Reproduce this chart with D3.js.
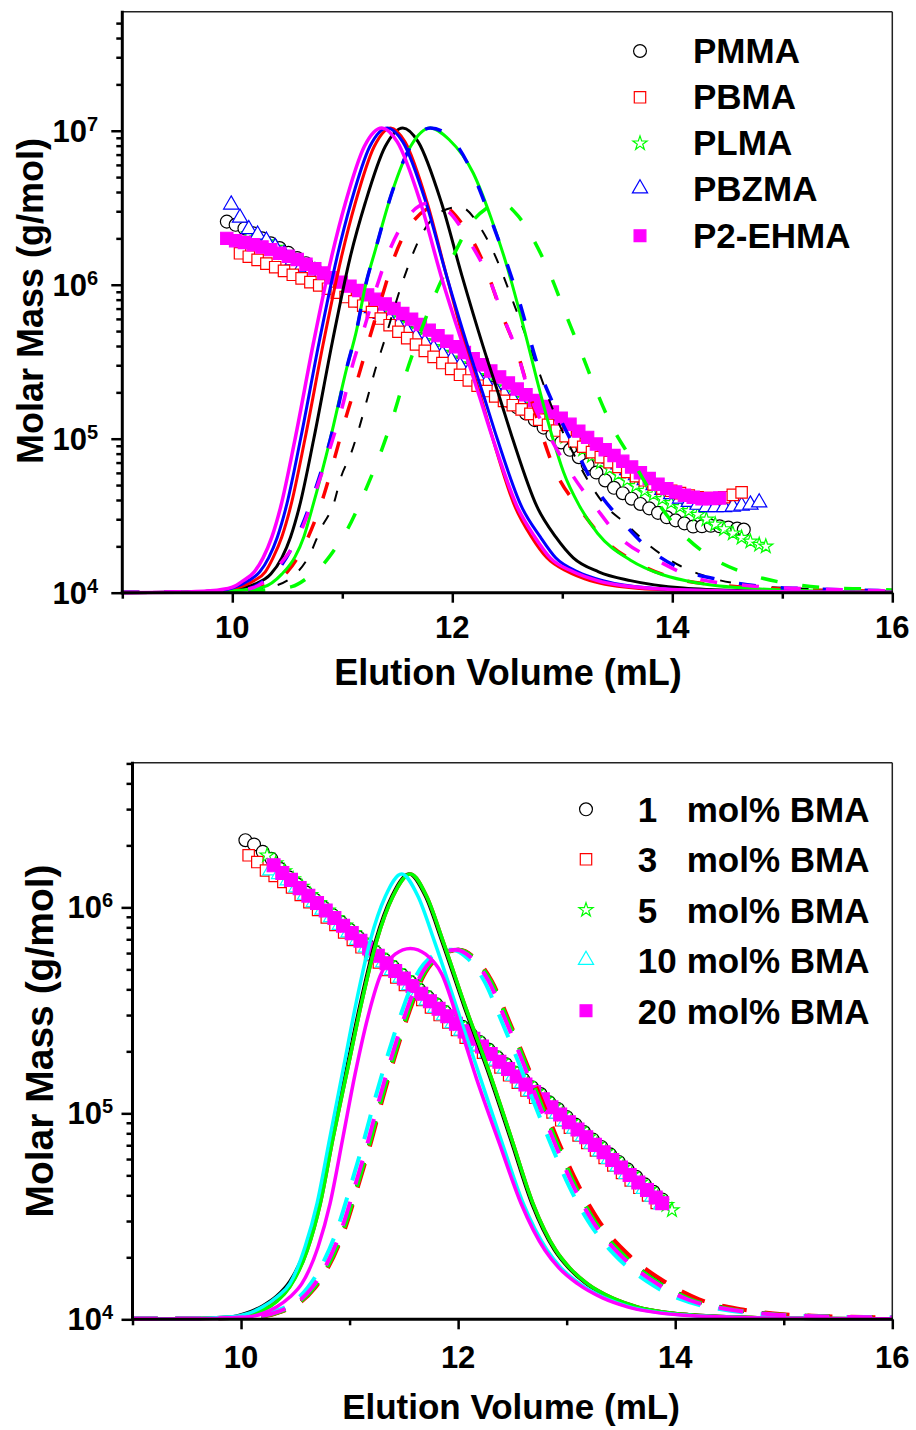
<!DOCTYPE html>
<html>
<head>
<meta charset="utf-8">
<script src="https://cdn.jsdelivr.net/npm/d3@7"></script>
<style>
  body { margin: 0; background: #fff; }
  svg { display: block; }
  text { font-family: "Liberation Sans", Arial, Helvetica, sans-serif; font-weight: bold; fill: #000; }
</style>
</head>
<body>
<svg id="chart" width="916" height="1430"></svg>
<script>
// ---------------- axis ticks and labels ----------------
const volumeTicks = [10, 12, 14, 16];
const volumeMinorTicks = [9, 11, 13, 15];
const topMassTicks = [1e4, 1e5, 1e6, 1e7];
const bottomMassTicks = [1e4, 1e5, 1e6];
const xTitle = "Elution Volume (mL)";
const yTitle = "Molar Mass (g/mol)";
const topLegendLabels = ["PMMA", "PBMA", "PLMA", "PBZMA", "P2-EHMA"];
const bottomLegendAmounts = ["1", "3", "5", "10", "20"];
const bottomLegendUnit = "mol% BMA";

// ---------------- homopolymers: molar mass vs elution volume [mL, g/mol] ----------------
const pmmaMass = [[9.95,2.57e6],[10.03,2.45e6],[10.11,2.32e6],[10.19,2.16e6],[10.27,2.00e6],[10.35,1.86e6],[10.43,1.73e6],[10.51,1.61e6],[10.59,1.49e6],[10.67,1.38e6],[10.75,1.27e6],[10.83,1.17e6],[10.91,1.08e6],[10.99,9.95e5],[11.07,9.14e5],[11.15,8.38e5],[11.23,7.67e5],[11.31,7.00e5],[11.39,6.38e5],[11.47,5.82e5],[11.55,5.31e5],[11.63,4.84e5],[11.71,4.42e5],[11.79,4.03e5],[11.87,3.67e5],[11.95,3.35e5],[12.03,3.05e5],[12.11,2.82e5],[12.19,2.57e5],[12.27,2.34e5],[12.35,2.14e5],[12.43,1.93e5],[12.51,1.76e5],[12.59,1.60e5],[12.67,1.46e5],[12.75,1.32e5],[12.83,1.18e5],[12.91,1.06e5],[12.99,9.46e4],[13.07,8.47e4],[13.15,7.59e4],[13.23,6.78e4],[13.31,6.03e4],[13.39,5.36e4],[13.47,4.80e4],[13.55,4.43e4],[13.63,4.08e4],[13.71,3.77e4],[13.79,3.53e4],[13.87,3.30e4],[13.95,3.09e4],[14.03,2.95e4],[14.11,2.82e4],[14.19,2.69e4],[14.27,2.70e4],[14.35,2.72e4],[14.43,2.70e4],[14.51,2.65e4],[14.59,2.61e4],[14.65,2.57e4]];
const pbmaMass = [[10.07,1.60e6],[10.15,1.52e6],[10.23,1.45e6],[10.31,1.37e6],[10.39,1.30e6],[10.47,1.23e6],[10.55,1.16e6],[10.63,1.10e6],[10.71,1.04e6],[10.79,9.91e5],[10.87,9.42e5],[10.95,8.87e5],[11.03,8.32e5],[11.11,7.80e5],[11.19,7.31e5],[11.27,6.65e5],[11.35,6.03e5],[11.43,5.46e5],[11.51,4.95e5],[11.59,4.50e5],[11.67,4.09e5],[11.75,3.72e5],[11.83,3.40e5],[11.91,3.10e5],[11.99,2.84e5],[12.07,2.60e5],[12.15,2.39e5],[12.23,2.21e5],[12.31,2.04e5],[12.39,1.88e5],[12.47,1.76e5],[12.55,1.65e5],[12.63,1.55e5],[12.71,1.45e5],[12.79,1.33e5],[12.87,1.23e5],[12.95,1.13e5],[13.03,1.04e5],[13.11,9.59e4],[13.19,8.87e4],[13.27,8.18e4],[13.35,7.59e4],[13.43,7.05e4],[13.51,6.55e4],[13.59,6.08e4],[13.67,5.71e4],[13.75,5.37e4],[13.83,5.05e4],[13.91,4.76e4],[13.99,4.59e4],[14.07,4.43e4],[14.15,4.27e4],[14.23,4.16e4],[14.31,4.12e4],[14.39,4.08e4],[14.47,4.17e4],[14.55,4.32e4],[14.63,4.48e4]];
const plmaMass = [[10.15,2.14e6],[10.23,2.01e6],[10.31,1.89e6],[10.39,1.74e6],[10.47,1.61e6],[10.55,1.49e6],[10.63,1.37e6],[10.71,1.26e6],[10.79,1.17e6],[10.87,1.08e6],[10.95,9.95e5],[11.03,9.20e5],[11.11,8.49e5],[11.19,7.83e5],[11.27,7.19e5],[11.35,6.61e5],[11.43,6.07e5],[11.51,5.56e5],[11.59,5.11e5],[11.67,4.69e5],[11.75,4.30e5],[11.83,3.94e5],[11.91,3.62e5],[11.99,3.32e5],[12.07,3.05e5],[12.15,2.80e5],[12.23,2.56e5],[12.31,2.36e5],[12.39,2.16e5],[12.47,1.98e5],[12.55,1.82e5],[12.63,1.67e5],[12.71,1.53e5],[12.79,1.39e5],[12.87,1.26e5],[12.95,1.14e5],[13.03,1.03e5],[13.11,9.38e4],[13.19,8.51e4],[13.27,7.73e4],[13.35,7.01e4],[13.43,6.40e4],[13.51,5.87e4],[13.59,5.38e4],[13.67,4.94e4],[13.75,4.60e4],[13.83,4.34e4],[13.91,4.07e4],[13.99,3.83e4],[14.07,3.61e4],[14.15,3.40e4],[14.23,3.21e4],[14.31,2.99e4],[14.39,2.78e4],[14.47,2.59e4],[14.55,2.43e4],[14.63,2.28e4],[14.71,2.15e4],[14.79,2.05e4],[14.85,2.00e4]];
const pbzmaMass = [[9.99,3.31e6],[10.07,2.72e6],[10.15,2.29e6],[10.23,2.11e6],[10.31,1.93e6],[10.39,1.75e6],[10.47,1.58e6],[10.55,1.44e6],[10.63,1.31e6],[10.71,1.21e6],[10.79,1.12e6],[10.87,1.03e6],[10.95,9.55e5],[11.03,8.87e5],[11.11,8.24e5],[11.19,7.66e5],[11.27,7.03e5],[11.35,6.46e5],[11.43,5.93e5],[11.51,5.43e5],[11.59,4.99e5],[11.67,4.58e5],[11.75,4.20e5],[11.83,3.85e5],[11.91,3.54e5],[11.99,3.24e5],[12.07,2.98e5],[12.15,2.74e5],[12.23,2.51e5],[12.31,2.30e5],[12.39,2.11e5],[12.47,1.95e5],[12.55,1.80e5],[12.63,1.66e5],[12.71,1.53e5],[12.79,1.43e5],[12.87,1.32e5],[12.95,1.23e5],[13.03,1.14e5],[13.11,1.04e5],[13.19,9.57e4],[13.27,8.79e4],[13.35,8.07e4],[13.43,7.40e4],[13.51,6.79e4],[13.59,6.24e4],[13.67,5.78e4],[13.75,5.37e4],[13.83,4.99e4],[13.91,4.65e4],[13.99,4.36e4],[14.07,4.08e4],[14.15,3.88e4],[14.23,3.72e4],[14.31,3.59e4],[14.39,3.59e4],[14.47,3.59e4],[14.55,3.62e4],[14.63,3.67e4],[14.71,3.73e4],[14.79,3.85e4]];
const p2ehmaMass = [[9.95,2.00e6],[10.03,1.93e6],[10.11,1.88e6],[10.19,1.82e6],[10.27,1.76e6],[10.35,1.69e6],[10.43,1.60e6],[10.51,1.53e6],[10.59,1.46e6],[10.67,1.36e6],[10.75,1.27e6],[10.83,1.19e6],[10.91,1.11e6],[10.99,1.04e6],[11.07,9.79e5],[11.15,9.18e5],[11.23,8.59e5],[11.31,8.04e5],[11.39,7.50e5],[11.47,7.01e5],[11.55,6.50e5],[11.63,5.98e5],[11.71,5.51e5],[11.79,5.07e5],[11.87,4.67e5],[11.95,4.30e5],[12.03,3.95e5],[12.11,3.63e5],[12.19,3.31e5],[12.27,3.02e5],[12.35,2.75e5],[12.43,2.52e5],[12.51,2.30e5],[12.59,2.10e5],[12.67,1.93e5],[12.75,1.77e5],[12.83,1.62e5],[12.91,1.49e5],[12.99,1.36e5],[13.07,1.24e5],[13.15,1.12e5],[13.23,1.02e5],[13.31,9.23e4],[13.39,8.47e4],[13.47,7.78e4],[13.55,7.13e4],[13.63,6.55e4],[13.71,6.01e4],[13.79,5.51e4],[13.87,5.06e4],[13.95,4.74e4],[14.03,4.51e4],[14.11,4.30e4],[14.19,4.17e4],[14.27,4.07e4],[14.35,4.09e4],[14.43,4.12e4]];

// ---------------- homopolymers: normalised detector traces [mL, signal] ----------------
const pmmaRI = [[9.0,0],[9.5,0.001],[9.8,0.003],[10.0,0.007],[10.2,0.018],[10.35,0.04],[10.45,0.075],[10.53,0.12],[10.61,0.185],[10.74,0.33],[10.91,0.54],[11.07,0.72],[11.21,0.84],[11.39,0.96],[11.55,1.0],[11.69,0.97],[11.9,0.84],[12.09,0.68],[12.28,0.53],[12.43,0.42],[12.55,0.33],[12.77,0.185],[12.94,0.12],[13.1,0.075],[13.33,0.045],[13.62,0.026],[14.1,0.01],[14.7,0.004],[15.3,0.002],[16.0,0.001]];
const pbmaRI = [[9.0,0],[9.5,0.001],[9.8,0.003],[10.0,0.008],[10.2,0.026],[10.3,0.045],[10.37,0.075],[10.45,0.12],[10.53,0.185],[10.66,0.33],[10.83,0.54],[10.99,0.72],[11.12,0.84],[11.29,0.96],[11.44,1.0],[11.57,0.97],[11.77,0.84],[11.95,0.68],[12.12,0.53],[12.26,0.42],[12.37,0.33],[12.57,0.185],[12.72,0.12],[12.86,0.075],[13.05,0.045],[13.25,0.026],[13.7,0.009],[14.4,0.003],[15.0,0.001],[16.0,0.0005]];
const plmaRI = [[9.0,0],[9.6,0.001],[10.0,0.004],[10.28,0.012],[10.45,0.04],[10.57,0.077],[10.65,0.12],[10.73,0.185],[10.89,0.33],[11.04,0.483],[11.13,0.565],[11.21,0.66],[11.3,0.737],[11.45,0.86],[11.62,0.96],[11.8,1.0],[11.97,0.975],[12.19,0.903],[12.35,0.808],[12.5,0.70],[12.65,0.57],[12.8,0.43],[12.91,0.335],[13.01,0.26],[13.16,0.185],[13.32,0.128],[13.62,0.07],[13.92,0.038],[14.23,0.021],[14.8,0.008],[15.4,0.003],[16.0,0.001]];
const pbzmaRI = [[9.0,0],[9.5,0.001],[9.8,0.003],[10.0,0.01],[10.15,0.026],[10.25,0.045],[10.33,0.075],[10.41,0.12],[10.49,0.185],[10.62,0.33],[10.79,0.54],[10.95,0.72],[11.08,0.84],[11.25,0.96],[11.41,1.0],[11.55,0.97],[11.76,0.84],[11.95,0.68],[12.14,0.53],[12.29,0.42],[12.41,0.33],[12.63,0.185],[12.8,0.12],[12.94,0.075],[13.14,0.045],[13.37,0.026],[13.8,0.01],[14.4,0.004],[15.0,0.002],[16.0,0.001]];
const p2ehmaRI = [[9.0,0],[9.5,0.001],[9.8,0.004],[10.0,0.012],[10.1,0.026],[10.2,0.045],[10.28,0.075],[10.36,0.12],[10.44,0.185],[10.57,0.33],[10.74,0.54],[10.9,0.72],[11.03,0.84],[11.2,0.96],[11.36,1.0],[11.5,0.97],[11.71,0.84],[11.9,0.68],[12.1,0.53],[12.25,0.42],[12.37,0.33],[12.59,0.185],[12.75,0.12],[12.89,0.075],[13.1,0.045],[13.32,0.026],[13.77,0.01],[14.4,0.004],[15.0,0.002],[16.0,0.001]];

const pmmaLS = [[9.0,0.001],[10.0,0.003],[10.3,0.01],[10.55,0.035],[10.7,0.08],[10.81,0.14],[10.92,0.19],[10.99,0.25],[11.08,0.3],[11.16,0.36],[11.23,0.42],[11.3,0.48],[11.38,0.54],[11.55,0.67],[11.72,0.77],[11.9,0.82],[12.07,0.83],[12.27,0.78],[12.38,0.73],[12.57,0.615],[12.75,0.5],[12.93,0.385],[13.1,0.3],[13.25,0.235],[13.4,0.185],[13.57,0.15],[13.8,0.1],[14.07,0.058],[14.27,0.038],[14.74,0.015],[15.3,0.008],[16.0,0.004]];
const pbmaLS = [[9.0,0.001],[10.0,0.003],[10.25,0.012],[10.5,0.045],[10.69,0.12],[10.83,0.208],[10.93,0.29],[11.03,0.375],[11.14,0.46],[11.25,0.55],[11.36,0.636],[11.47,0.72],[11.63,0.795],[11.89,0.834],[12.1,0.79],[12.3,0.70],[12.45,0.6],[12.6,0.51],[12.7,0.43],[12.93,0.265],[13.16,0.18],[13.4,0.11],[13.68,0.064],[14.04,0.03],[14.5,0.015],[15.0,0.008],[16.0,0.003]];
const plmaLS = [[9.0,0.001],[10.0,0.002],[10.3,0.006],[10.54,0.013],[10.7,0.035],[10.83,0.062],[10.95,0.1],[11.05,0.138],[11.21,0.22],[11.35,0.302],[11.47,0.385],[11.58,0.472],[11.71,0.56],[11.84,0.639],[12.0,0.72],[12.17,0.795],[12.3,0.825],[12.45,0.838],[12.6,0.81],[12.73,0.763],[12.9,0.679],[13.03,0.6],[13.17,0.518],[13.31,0.434],[13.46,0.354],[13.63,0.287],[13.85,0.2],[14.08,0.13],[14.37,0.074],[14.72,0.038],[15.1,0.018],[15.44,0.01],[15.76,0.008],[16.0,0.006]];
const pbzmaLS = [[9.0,0.001],[9.6,0.001],[10.0,0.004],[10.17,0.01],[10.3,0.028],[10.44,0.057],[10.61,0.131],[10.75,0.219],[10.87,0.311],[10.96,0.397],[11.04,0.483],[11.13,0.565],[11.21,0.66],[11.3,0.737],[11.45,0.86],[11.62,0.96],[11.8,1.0],[11.98,0.98],[12.2,0.894],[12.34,0.81],[12.47,0.726],[12.59,0.642],[12.79,0.48],[12.96,0.385],[13.15,0.295],[13.28,0.235],[13.52,0.16],[13.77,0.098],[14.1,0.049],[14.43,0.028],[14.8,0.014],[15.3,0.008],[16.0,0.004]];
const p2ehmaLS = [[9.0,0.001],[9.6,0.002],[10.0,0.004],[10.18,0.01],[10.3,0.026],[10.43,0.06],[10.62,0.13],[10.76,0.22],[10.9,0.32],[11.0,0.4],[11.09,0.487],[11.2,0.57],[11.31,0.656],[11.43,0.737],[11.6,0.81],[11.78,0.838],[11.94,0.825],[12.16,0.754],[12.34,0.673],[12.47,0.59],[12.6,0.51],[12.69,0.436],[12.9,0.33],[13.1,0.25],[13.3,0.185],[13.51,0.122],[13.89,0.066],[14.22,0.031],[14.7,0.015],[15.3,0.008],[16.0,0.004]];

// ---------------- BMA copolymers: molar mass vs elution volume [mL, g/mol] ----------------
const bma1Mass = [[10.04,2.12e6],[10.12,2.02e6],[10.20,1.86e6],[10.28,1.72e6],[10.36,1.54e6],[10.44,1.40e6],[10.52,1.29e6],[10.60,1.18e6],[10.68,1.09e6],[10.76,9.98e5],[10.84,9.21e5],[10.92,8.48e5],[11.00,7.80e5],[11.08,7.16e5],[11.16,6.60e5],[11.24,6.06e5],[11.32,5.58e5],[11.40,5.14e5],[11.48,4.71e5],[11.56,4.34e5],[11.64,3.99e5],[11.72,3.67e5],[11.80,3.38e5],[11.88,3.10e5],[11.96,2.85e5],[12.04,2.63e5],[12.12,2.41e5],[12.20,2.22e5],[12.28,2.04e5],[12.36,1.87e5],[12.44,1.73e5],[12.52,1.58e5],[12.60,1.46e5],[12.68,1.34e5],[12.76,1.24e5],[12.84,1.13e5],[12.92,1.05e5],[13.00,9.60e4],[13.08,8.83e4],[13.16,8.11e4],[13.24,7.47e4],[13.32,6.87e4],[13.40,6.32e4],[13.48,5.81e4],[13.56,5.35e4],[13.64,4.92e4],[13.72,4.52e4],[13.80,4.16e4],[13.88,3.82e4]];
const bma3Mass = [[10.07,1.79e6],[10.15,1.66e6],[10.23,1.51e6],[10.31,1.42e6],[10.39,1.33e6],[10.47,1.25e6],[10.55,1.15e6],[10.63,1.06e6],[10.71,9.71e5],[10.79,8.93e5],[10.87,8.22e5],[10.95,7.55e5],[11.03,6.95e5],[11.11,6.40e5],[11.19,5.87e5],[11.27,5.41e5],[11.35,4.97e5],[11.43,4.57e5],[11.51,4.20e5],[11.59,3.86e5],[11.67,3.55e5],[11.75,3.27e5],[11.83,3.00e5],[11.91,2.76e5],[11.99,2.54e5],[12.07,2.33e5],[12.15,2.14e5],[12.23,1.97e5],[12.31,1.81e5],[12.39,1.67e5],[12.47,1.53e5],[12.55,1.41e5],[12.63,1.29e5],[12.71,1.19e5],[12.79,1.09e5],[12.87,1.01e5],[12.95,9.25e4],[13.03,8.51e4],[13.11,7.82e4],[13.19,7.19e4],[13.27,6.61e4],[13.35,6.08e4],[13.43,5.58e4],[13.51,5.14e4],[13.59,4.72e4],[13.67,4.35e4],[13.75,3.99e4],[13.83,3.67e4]];
const bma5Mass = [[10.24,1.79e6],[10.32,1.64e6],[10.40,1.50e6],[10.48,1.37e6],[10.56,1.26e6],[10.64,1.15e6],[10.72,1.05e6],[10.80,9.68e5],[10.88,8.89e5],[10.96,8.17e5],[11.04,7.52e5],[11.12,6.90e5],[11.20,6.34e5],[11.28,5.83e5],[11.36,5.36e5],[11.44,4.92e5],[11.52,4.53e5],[11.60,4.16e5],[11.68,3.82e5],[11.76,3.51e5],[11.84,3.23e5],[11.92,2.96e5],[12.00,2.72e5],[12.08,2.51e5],[12.16,2.30e5],[12.24,2.11e5],[12.32,1.95e5],[12.40,1.79e5],[12.48,1.64e5],[12.56,1.51e5],[12.64,1.39e5],[12.72,1.27e5],[12.80,1.17e5],[12.88,1.08e5],[12.96,9.89e4],[13.04,9.08e4],[13.12,8.36e4],[13.20,7.67e4],[13.28,7.05e4],[13.36,6.49e4],[13.44,5.96e4],[13.52,5.47e4],[13.60,5.04e4],[13.68,4.62e4],[13.76,4.25e4],[13.84,3.91e4],[13.92,3.59e4],[13.97,3.39e4]];
const bma10Mass = [[10.27,1.51e6],[10.35,1.45e6],[10.43,1.35e6],[10.51,1.25e6],[10.59,1.15e6],[10.67,1.06e6],[10.75,9.73e5],[10.83,8.95e5],[10.91,8.22e5],[10.99,7.55e5],[11.07,6.95e5],[11.15,6.38e5],[11.23,5.86e5],[11.31,5.40e5],[11.39,4.95e5],[11.47,4.55e5],[11.55,4.19e5],[11.63,3.85e5],[11.71,3.53e5],[11.79,3.25e5],[11.87,2.99e5],[11.95,2.74e5],[12.03,2.52e5],[12.11,2.32e5],[12.19,2.13e5],[12.27,1.96e5],[12.35,1.80e5],[12.43,1.65e5],[12.51,1.52e5],[12.59,1.40e5],[12.67,1.28e5],[12.75,1.18e5],[12.83,1.08e5],[12.91,9.95e4],[12.99,9.16e4],[13.07,8.41e4],[13.15,7.73e4],[13.23,7.11e4],[13.31,6.53e4],[13.39,6.00e4],[13.47,5.52e4],[13.55,5.07e4],[13.63,4.66e4],[13.71,4.29e4],[13.79,3.94e4],[13.87,3.61e4]];
const bma20Mass = [[10.30,1.60e6],[10.38,1.47e6],[10.46,1.36e6],[10.54,1.24e6],[10.62,1.14e6],[10.70,1.05e6],[10.78,9.66e5],[10.86,8.87e5],[10.94,8.15e5],[11.02,7.50e5],[11.10,6.89e5],[11.18,6.32e5],[11.26,5.82e5],[11.34,5.35e5],[11.42,4.91e5],[11.50,4.52e5],[11.58,4.15e5],[11.66,3.81e5],[11.74,3.50e5],[11.82,3.22e5],[11.90,2.96e5],[11.98,2.72e5],[12.06,2.50e5],[12.14,2.30e5],[12.22,2.11e5],[12.30,1.94e5],[12.38,1.78e5],[12.46,1.64e5],[12.54,1.51e5],[12.62,1.38e5],[12.70,1.27e5],[12.78,1.17e5],[12.86,1.07e5],[12.94,9.86e4],[13.02,9.06e4],[13.10,8.34e4],[13.18,7.66e4],[13.26,7.03e4],[13.34,6.47e4],[13.42,5.94e4],[13.50,5.46e4],[13.58,5.02e4],[13.66,4.61e4],[13.74,4.24e4],[13.82,3.90e4],[13.88,3.66e4]];

// ---------------- BMA copolymers: normalised detector traces [mL, signal] ----------------
const bma1RI = [[9.0,0],[9.5,0.001],[9.9,0.005],[10.05,0.014],[10.2,0.03],[10.33,0.052],[10.45,0.085],[10.6,0.16],[10.72,0.26],[10.84,0.41],[10.97,0.56],[11.1,0.71],[11.24,0.85],[11.39,0.95],[11.55,1.0],[11.7,0.95],[11.85,0.85],[12.06,0.70],[12.27,0.56],[12.49,0.40],[12.68,0.26],[12.89,0.155],[13.02,0.115],[13.18,0.08],[13.41,0.048],[13.64,0.028],[14.13,0.01],[14.7,0.004],[15.3,0.002],[16.0,0.001]];
const bma3RI = [[9.0,0],[9.5,0.001],[9.9,0.004],[10.05,0.011],[10.2,0.021],[10.33,0.041],[10.45,0.074],[10.61,0.156],[10.73,0.26],[10.85,0.41],[10.98,0.56],[11.11,0.71],[11.25,0.85],[11.4,0.95],[11.56,1.0],[11.71,0.95],[11.86,0.85],[12.07,0.70],[12.28,0.56],[12.5,0.40],[12.69,0.26],[12.9,0.155],[13.03,0.115],[13.19,0.08],[13.42,0.048],[13.65,0.028],[14.14,0.01],[14.7,0.004],[15.3,0.002],[16.0,0.001]];
const bma5RI = [[9.0,0],[9.5,0.001],[9.9,0.004],[10.05,0.01],[10.2,0.02],[10.33,0.04],[10.45,0.073],[10.61,0.155],[10.73,0.26],[10.85,0.41],[10.98,0.56],[11.11,0.71],[11.25,0.85],[11.4,0.95],[11.56,1.0],[11.71,0.95],[11.86,0.85],[12.07,0.70],[12.28,0.56],[12.5,0.40],[12.69,0.26],[12.9,0.155],[13.03,0.115],[13.19,0.08],[13.42,0.048],[13.65,0.028],[14.14,0.01],[14.7,0.004],[15.3,0.002],[16.0,0.001]];
const bma10RI = [[9.0,0],[9.5,0.001],[9.9,0.005],[10.05,0.012],[10.2,0.028],[10.33,0.05],[10.45,0.08],[10.59,0.163],[10.7,0.26],[10.82,0.41],[10.94,0.56],[11.06,0.71],[11.19,0.85],[11.33,0.95],[11.48,1.0],[11.63,0.95],[11.78,0.85],[11.98,0.705],[12.18,0.56],[12.4,0.40],[12.6,0.26],[12.82,0.155],[12.95,0.115],[13.12,0.08],[13.35,0.048],[13.58,0.028],[14.05,0.01],[14.6,0.004],[15.3,0.002],[16.0,0.001]];
const bma20RI = [[9.0,0],[9.5,0.001],[9.9,0.003],[10.05,0.005],[10.2,0.013],[10.33,0.028],[10.45,0.05],[10.56,0.08],[10.71,0.163],[10.82,0.26],[10.94,0.41],[11.05,0.55],[11.17,0.68],[11.28,0.77],[11.42,0.82],[11.56,0.833],[11.7,0.82],[11.85,0.775],[12.0,0.67],[12.17,0.54],[12.38,0.395],[12.58,0.26],[12.8,0.155],[12.93,0.115],[13.1,0.08],[13.33,0.048],[13.56,0.028],[14.03,0.01],[14.6,0.004],[15.3,0.002],[16.0,0.001]];

const bma1LS = [[9.0,0.002],[9.6,0.002],[10.0,0.004],[10.22,0.008],[10.37,0.018],[10.52,0.035],[10.67,0.07],[10.79,0.115],[10.95,0.205],[11.07,0.3],[11.19,0.4],[11.3,0.5],[11.42,0.6],[11.54,0.69],[11.67,0.77],[11.82,0.815],[12.0,0.83],[12.15,0.81],[12.3,0.76],[12.46,0.67],[12.62,0.575],[12.77,0.48],[12.92,0.39],[13.07,0.305],[13.26,0.22],[13.52,0.145],[13.84,0.085],[14.15,0.045],[14.55,0.022],[14.95,0.011],[15.32,0.007],[15.68,0.005],[16.0,0.004]];
const bma3LS = [[9.0,0.002],[9.6,0.002],[10.0,0.004],[10.23,0.008],[10.38,0.018],[10.53,0.035],[10.68,0.07],[10.8,0.115],[10.96,0.205],[11.08,0.3],[11.2,0.4],[11.31,0.5],[11.43,0.6],[11.55,0.69],[11.68,0.77],[11.83,0.815],[12.01,0.83],[12.16,0.81],[12.31,0.76],[12.47,0.67],[12.63,0.575],[12.79,0.48],[12.94,0.39],[13.1,0.305],[13.3,0.22],[13.57,0.145],[13.9,0.085],[14.22,0.045],[14.62,0.022],[15.02,0.011],[15.39,0.007],[15.74,0.005],[16.0,0.004]];
const bma5LS = [[9.0,0.002],[9.6,0.002],[10.0,0.004],[10.22,0.008],[10.37,0.018],[10.52,0.035],[10.67,0.07],[10.79,0.115],[10.95,0.205],[11.07,0.3],[11.19,0.4],[11.3,0.5],[11.42,0.6],[11.54,0.69],[11.67,0.77],[11.82,0.815],[12.0,0.83],[12.15,0.81],[12.3,0.76],[12.46,0.67],[12.62,0.575],[12.77,0.48],[12.92,0.39],[13.07,0.305],[13.26,0.22],[13.52,0.145],[13.83,0.085],[14.14,0.045],[14.53,0.022],[14.93,0.011],[15.3,0.007],[15.67,0.005],[16.0,0.004]];
const bma10LS = [[9.0,0.002],[9.6,0.002],[10.0,0.005],[10.16,0.008],[10.31,0.018],[10.46,0.035],[10.61,0.07],[10.73,0.115],[10.89,0.205],[11.01,0.3],[11.13,0.4],[11.24,0.5],[11.36,0.6],[11.48,0.69],[11.61,0.77],[11.76,0.815],[11.94,0.83],[12.09,0.81],[12.24,0.76],[12.4,0.67],[12.56,0.575],[12.71,0.48],[12.86,0.39],[13.01,0.305],[13.2,0.22],[13.44,0.145],[13.74,0.085],[14.05,0.045],[14.44,0.022],[14.84,0.011],[15.21,0.007],[15.6,0.005],[16.0,0.004]];
const bma20LS = [[9.0,0.002],[9.6,0.002],[10.0,0.004],[10.2,0.008],[10.35,0.018],[10.5,0.035],[10.65,0.07],[10.77,0.115],[10.93,0.205],[11.05,0.3],[11.17,0.4],[11.28,0.5],[11.4,0.6],[11.52,0.69],[11.65,0.77],[11.8,0.815],[11.98,0.83],[12.13,0.81],[12.28,0.76],[12.44,0.67],[12.6,0.575],[12.75,0.48],[12.9,0.39],[13.05,0.305],[13.24,0.22],[13.49,0.145],[13.8,0.085],[14.11,0.045],[14.5,0.022],[14.9,0.011],[15.27,0.007],[15.64,0.005],[16.0,0.004]];

// ---------------- series tables ----------------
const topSeries = [
  { mass: pmmaMass,   ri: pmmaRI,   ls: pmmaLS },
  { mass: pbmaMass,   ri: pbmaRI,   ls: pbmaLS },
  { mass: plmaMass,   ri: plmaRI,   ls: plmaLS },
  { mass: pbzmaMass,  ri: pbzmaRI,  ls: pbzmaLS },
  { mass: p2ehmaMass, ri: p2ehmaRI, ls: p2ehmaLS }
];
const bottomSeries = [
  { mass: bma1Mass,  ri: bma1RI,  ls: bma1LS },
  { mass: bma3Mass,  ri: bma3RI,  ls: bma3LS },
  { mass: bma5Mass,  ri: bma5RI,  ls: bma5LS },
  { mass: bma10Mass, ri: bma10RI, ls: bma10LS },
  { mass: bma20Mass, ri: bma20RI, ls: bma20LS }
];

// ---------------- styling ----------------
const topStyles = [
  { color: "#000000", symbol: d3.symbolCircle,   size: 130, fill: "#ffffff", riWidth: 3,   lsWidth: 2,   lsDash: "11,15" },
  { color: "#ff0000", symbol: d3.symbolSquare,   size: 130, fill: "#ffffff", riWidth: 3,   lsWidth: 3.5, lsDash: "17,25" },
  { color: "#00ff00", symbol: d3.symbolStar,     size: 62,  fill: "#ffffff", riWidth: 3,   lsWidth: 3.5, lsDash: "17,25" },
  { color: "#0000ff", symbol: d3.symbolTriangle, size: 100, fill: "#ffffff", riWidth: 3,   lsWidth: 3.5, lsDash: "17,25" },
  { color: "#ff00ff", symbol: d3.symbolSquare,   size: 150, fill: "#ff00ff", riWidth: 3.5, lsWidth: 3.5, lsDash: "17,25" }
];
const bottomStyles = [
  { color: "#000000", symbol: d3.symbolCircle,   size: 130, fill: "#ffffff", riWidth: 3.5, lsWidth: 4, lsDash: "25,18" },
  { color: "#ff0000", symbol: d3.symbolSquare,   size: 130, fill: "#ffffff", riWidth: 3.5, lsWidth: 4, lsDash: "25,18" },
  { color: "#00ff00", symbol: d3.symbolStar,     size: 62,  fill: "#ffffff", riWidth: 3.5, lsWidth: 4, lsDash: "25,18" },
  { color: "#00ffff", symbol: d3.symbolTriangle, size: 100, fill: "#ffffff", riWidth: 3.5, lsWidth: 4, lsDash: "25,18" },
  { color: "#ff00ff", symbol: d3.symbolSquare,   size: 165, fill: "#ff00ff", riWidth: 3.5, lsWidth: 4, lsDash: "25,18" }
];

const svg = d3.select("#chart");

function drawPanel(p) {
  const g = svg.append("g");
  const x = d3.scaleLinear().domain([9, 16]).range([p.left, p.right]);
  const y = d3.scaleLog().domain([1e4, p.massMax]).range([p.bottom, p.top]);
  const ySignal = d3.scaleLinear().domain([0, 1.25]).range([p.bottom, p.top]);

  // molar mass markers (stacking order per panel)
  p.markerOrder.forEach(i => {
    const s = p.series[i];
    const st = p.styles[i];
    const sym = d3.symbol().type(st.symbol).size(st.size);
    g.append("g").selectAll("path").data(s.mass).join("path")
      .attr("transform", d => `translate(${x(d[0])},${y(d[1])})`)
      .attr("d", sym)
      .attr("fill", st.fill)
      .attr("stroke", st.color)
      .attr("stroke-width", 1.2);
  });

  // detector traces
  const line = d3.line().x(d => x(d[0])).y(d => ySignal(d[1])).curve(d3.curveMonotoneX);
  p.series.forEach((s, i) => {
    const st = p.styles[i];
    g.append("path").datum(s.ri).attr("d", line)
      .attr("fill", "none").attr("stroke", st.color).attr("stroke-width", st.riWidth);
    g.append("path").datum(s.ls).attr("d", line)
      .attr("fill", "none").attr("stroke", st.color).attr("stroke-width", st.lsWidth)
      .attr("stroke-dasharray", st.lsDash);
  });

  // frame
  g.append("line").attr("x1", p.left).attr("x2", p.right).attr("y1", p.top).attr("y2", p.top)
    .attr("stroke", "#222").attr("stroke-width", 1.5);
  g.append("line").attr("x1", p.right).attr("x2", p.right).attr("y1", p.top).attr("y2", p.bottom)
    .attr("stroke", "#222").attr("stroke-width", 1.5);

  // x axis
  const xMajor = d3.axisBottom(x).tickValues(volumeTicks).tickSize(10).tickFormat("").tickSizeOuter(0);
  const xMinor = d3.axisBottom(x).tickValues(volumeMinorTicks).tickSize(6).tickFormat("").tickSizeOuter(0);
  const gx = g.append("g").attr("transform", `translate(0,${p.bottom})`);
  gx.append("g").call(xMinor);
  gx.append("g").call(xMajor);
  gx.selectAll(".domain").remove();
  gx.selectAll(".tick line").attr("stroke", "#000").attr("stroke-width", 2.5);
  g.append("line").attr("x1", p.left - 1.5).attr("x2", p.right + 0.75).attr("y1", p.bottom).attr("y2", p.bottom)
    .attr("stroke", "#000").attr("stroke-width", 3);
  g.selectAll(null).data(volumeTicks).join("text")
    .attr("x", d => x(d)).attr("y", p.bottom + p.xLabelDy)
    .attr("text-anchor", "middle").attr("font-size", 31)
    .text(d => d);
  g.append("text").attr("x", p.xTitleX).attr("y", p.bottom + p.xTitleDy)
    .attr("text-anchor", "middle").attr("font-size", p.xTitleSize).text(xTitle);

  // y axis
  const minor = [];
  p.massTicks.forEach(dec => { for (let k = 2; k <= 9; k++) { if (k * dec <= p.massMax) minor.push(k * dec); } });
  const yMajor = d3.axisLeft(y).tickValues(p.massTicks).tickSize(11).tickFormat("").tickSizeOuter(0);
  const yMinor = d3.axisLeft(y).tickValues(minor).tickSize(6).tickFormat("").tickSizeOuter(0);
  const gy = g.append("g").attr("transform", `translate(${p.left},0)`);
  gy.append("g").call(yMinor);
  gy.append("g").call(yMajor);
  gy.selectAll(".domain").remove();
  gy.selectAll(".tick line").attr("stroke", "#000").attr("stroke-width", 2.5);
  g.append("line").attr("x1", p.left).attr("x2", p.left).attr("y1", p.top - 1).attr("y2", p.bottom + 1.5)
    .attr("stroke", "#000").attr("stroke-width", 3);
  const lbl = g.selectAll(null).data(p.massTicks).join("text")
    .attr("x", p.yLabelX).attr("y", d => y(d) + 11)
    .attr("text-anchor", "end").attr("font-size", 31);
  lbl.append("tspan").text("10");
  lbl.append("tspan").attr("dy", -11).attr("font-size", 20).text(d => Math.round(Math.log10(d)));
  g.append("text")
    .attr("transform", `translate(${p.yTitleX},${p.yTitleY}) rotate(-90)`)
    .attr("text-anchor", "middle").attr("font-size", p.yTitleSize).text(yTitle);

  // legend
  p.legend.rows.forEach((r, i) => {
    const st = p.styles[i];
    const cy = p.legend.y[i];
    g.append("path")
      .attr("transform", `translate(${p.legend.markerX},${cy})`)
      .attr("d", d3.symbol().type(st.symbol).size(Math.min(st.size, 140)))
      .attr("fill", st.fill).attr("stroke", st.color).attr("stroke-width", 1.2);
    const t = g.append("text").attr("y", cy + p.legend.baseline).attr("font-size", 35);
    r.forEach(part => t.append("tspan").attr("x", part.x).text(part.text));
  });
}

drawPanel({
  left: 122.3, right: 892.3, top: 11.7, bottom: 592.7, massMax: 5.93e7,
  massTicks: topMassTicks, series: topSeries, styles: topStyles, markerOrder: [0, 2, 3, 1, 4],
  xLabelDy: 45.5, xTitleX: 508, xTitleDy: 92, xTitleSize: 36,
  yLabelX: 98, yTitleX: 43, yTitleY: 301, yTitleSize: 36,
  legend: {
    markerX: 640, baseline: 12, y: [51, 97.3, 143.3, 188.5, 235.7],
    rows: topLegendLabels.map(l => [{ x: 693, text: l }])
  }
});

drawPanel({
  left: 132.5, right: 892.3, top: 762.7, bottom: 1319.3, massMax: 5.04e6,
  massTicks: bottomMassTicks, series: bottomSeries, styles: bottomStyles, markerOrder: [0, 1, 2, 3, 4],
  xLabelDy: 49, xTitleX: 511, xTitleDy: 100, xTitleSize: 35,
  yLabelX: 113, yTitleX: 53, yTitleY: 1041, yTitleSize: 39,
  legend: {
    markerX: 586, baseline: 13, y: [809.3, 859.3, 910, 960, 1010.7],
    rows: bottomLegendAmounts.map(a => [{ x: 637.7, text: a }, { x: 686.7, text: bottomLegendUnit }])
  }
});
</script>
</body>
</html>
